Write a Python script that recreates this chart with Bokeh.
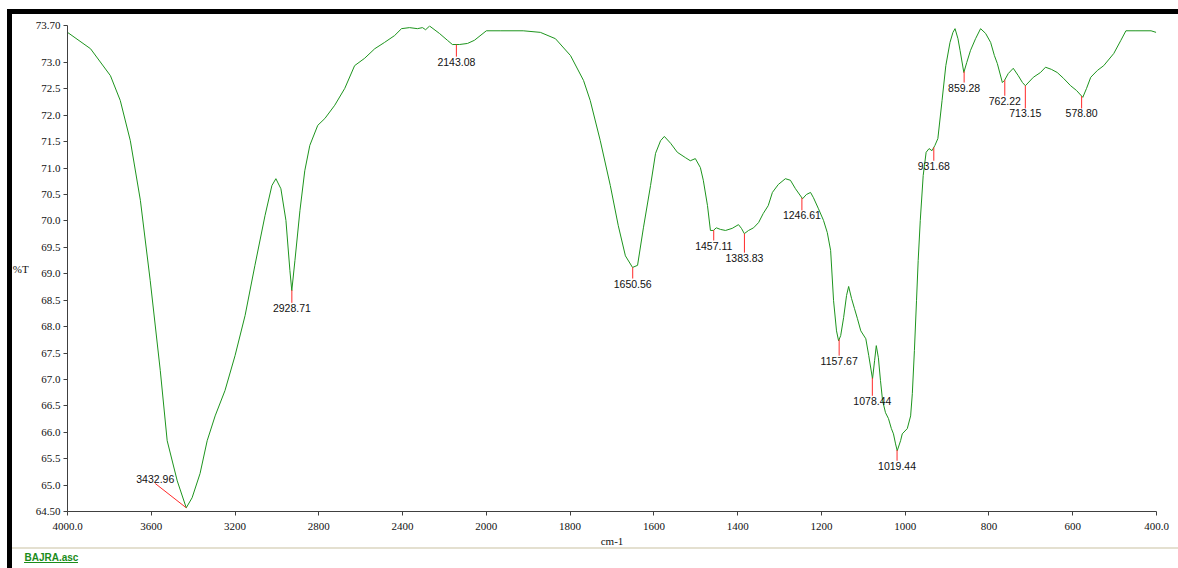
import numpy as np
from bokeh.plotting import figure
from bokeh.models import Range1d, FixedTicker, Title
from bokeh.embed import file_html
from bokeh.resources import INLINE
from bokeh.core.properties import value

# ---- data ----
wavenumber = [4000, 3890, 3795, 3748, 3700, 3652, 3605, 3557, 3524, 3476, 3433, 3405, 3367, 3333,
              3295, 3248, 3200, 3152, 3105, 3057, 3024, 3005, 2981, 2957, 2938, 2929, 2914, 2890,
              2867, 2843, 2805, 2771, 2724, 2676, 2629, 2581, 2533, 2486, 2438, 2405, 2367, 2329,
              2305, 2290, 2271, 2224, 2186, 2162, 2129, 2090, 2057, 2000, 1967, 1912, 1871, 1835,
              1799, 1768, 1752, 1728, 1704, 1685, 1668, 1651, 1639, 1625, 1608, 1596, 1584, 1575,
              1560, 1544, 1525, 1513, 1501, 1489, 1482, 1472, 1465, 1458, 1451, 1441, 1429, 1413,
              1398, 1391, 1384, 1374, 1362, 1350, 1339, 1327, 1317, 1303, 1286, 1274, 1262, 1245,
              1236, 1226, 1219, 1207, 1195, 1186, 1178, 1171, 1164, 1159, 1154, 1147, 1140, 1135,
              1128, 1121, 1114, 1106, 1094, 1087, 1078, 1073, 1069, 1064, 1059, 1054, 1047, 1040,
              1033, 1028, 1023, 1019, 1011, 1007, 995, 987, 983, 978, 973, 969, 964, 957, 950, 943,
              936, 929, 922, 912, 903, 893, 886, 881, 874, 869, 860, 853, 844, 832, 820, 808, 796,
              787, 780, 768, 763, 754, 742, 730, 720, 713, 694, 677, 665, 651, 637, 622, 605, 591,
              576, 567, 557, 541, 526, 502, 485, 473, 449, 413, 401]
transmittance = [73.57, 73.26, 72.75, 72.28, 71.52, 70.39, 68.87, 67.17, 65.84, 65.08, 64.57, 64.76,
                 65.22, 65.84, 66.31, 66.79, 67.45, 68.21, 69.16, 70.10, 70.67, 70.80, 70.61, 70.01,
                 69.06, 68.68, 69.25, 70.20, 70.95, 71.43, 71.81, 71.94, 72.19, 72.51, 72.94, 73.08,
                 73.26, 73.38, 73.51, 73.64, 73.66, 73.64, 73.66, 73.62, 73.69, 73.55, 73.42, 73.34,
                 73.34, 73.36, 73.42, 73.60, 73.60, 73.60, 73.57, 73.45, 73.13, 72.66, 72.28, 71.52,
                 70.67, 69.91, 69.34, 69.12, 69.16, 69.87, 70.67, 71.28, 71.52, 71.60, 71.47, 71.30,
                 71.20, 71.14, 71.18, 71.01, 70.77, 70.29, 69.82, 69.82, 69.87, 69.84, 69.82, 69.86,
                 69.93, 69.86, 69.76, 69.82, 69.87, 69.97, 70.14, 70.29, 70.54, 70.69, 70.80, 70.77,
                 70.61, 70.42, 70.50, 70.54, 70.44, 70.23, 70.01, 69.78, 69.44, 68.49, 67.92, 67.73,
                 67.83, 68.17, 68.59, 68.76, 68.53, 68.34, 68.15, 67.92, 67.77, 67.45, 67.01, 67.36,
                 67.64, 67.41, 66.98, 66.60, 66.37, 66.26, 66.07, 65.97, 65.78, 65.65, 65.84, 65.97,
                 66.07, 66.31, 66.73, 67.55, 68.49, 69.25, 70.01, 70.86, 71.30, 71.37, 71.33, 71.43,
                 71.56, 72.28, 72.94, 73.38, 73.57, 73.64, 73.45, 73.23, 72.81, 73.00, 73.23, 73.45,
                 73.64, 73.55, 73.38, 73.13, 72.98, 72.62, 72.66, 72.79, 72.89, 72.75, 72.62, 72.56,
                 72.72, 72.81, 72.91, 72.87, 72.81, 72.70, 72.56, 72.47, 72.34, 72.51, 72.72, 72.85,
                 72.94, 73.17, 73.42, 73.60, 73.60, 73.60, 73.57]
peak_wn = [3432.96, 2928.71, 2143.08, 1650.56, 1457.11, 1383.83, 1246.61, 1157.67,
           1078.44, 1019.44, 931.68, 859.28, 762.22, 713.15, 578.80]
x_tick_wn = [4000, 3600, 3200, 2800, 2400, 2000, 1800, 1600, 1400, 1200, 1000, 800, 600, 400]
x_tick_labels = ["4000.0", "3600", "3200", "2800", "2400", "2000", "1800", "1600", "1400",
                 "1200", "1000", "800", "600", "400.0"]
y_ticks = [64.5, 65.0, 65.5, 66.0, 66.5, 67.0, 67.5, 68.0, 68.5, 69.0, 69.5, 70.0,
           70.5, 71.0, 71.5, 72.0, 72.5, 73.0, 73.7]
y_tick_labels = ["64.50", "65.0", "65.5", "66.0", "66.5", "67.0", "67.5", "68.0", "68.5",
                 "69.0", "69.5", "70.0", "70.5", "71.0", "71.5", "72.0", "72.5", "73.0", "73.70"]

# ---- layout of the peak markers (end of each red marker line) ----
marker_end_wn = [3581] + peak_wn[1:]
marker_end_T = [65.03, 68.45, 73.11, 68.91, 69.63, 69.40, 70.20, 67.45,
                66.69, 65.46, 71.14, 72.62, 72.37, 72.13, 72.13]


def to_u(wn):
    """Piecewise-linear wavenumber axis: 4000-2000 is compressed by half."""
    wn = np.asarray(wn, dtype=float)
    return np.where(wn > 2000, 2000 + (wn - 2000) / 2.0, wn)


wn_arr = np.array(wavenumber, dtype=float)
t_arr = np.array(transmittance, dtype=float)
u_curve = to_u(wn_arr)

W, H = 1178, 568
frame_css = {
    "background-color": "white",
    "background-image": ("linear-gradient(#000,#000), linear-gradient(#000,#000), "
                         "linear-gradient(#e4e0d0,#e4e0d0), linear-gradient(#1a8c1a,#1a8c1a)"),
    "background-size": "1171px 5px, 5px 559px, 1166px 2px, 54px 1px",
    "background-position": "7px 9px, 7px 9px, 12px 547px, 24px 562px",
    "background-repeat": "no-repeat",
}
p = figure(width=W, height=H, output_backend="svg", toolbar_location=None,
           x_range=Range1d(float(to_u(4000)), 400), y_range=Range1d(64.5, 73.7),
           min_border_left=67, min_border_right=22, min_border_top=25, min_border_bottom=57,
           styles=frame_css)
p.grid.visible = False
p.outline_line_color = None
p.background_fill_color = None
p.border_fill_color = None

# curve
p.line(u_curve, t_arr, line_color="#1d941d", line_width=1)

# peak markers
order = np.argsort(u_curve)
pk_u = to_u(peak_wn)
pk_T = np.interp(pk_u, u_curve[order], t_arr[order])
end_u = to_u(marker_end_wn)
p.segment(x0=pk_u, y0=pk_T, x1=end_u, y1=marker_end_T, line_color="#ff2a2a", line_width=1)
labels = ["%.2f" % w for w in peak_wn]
p.text(x=end_u[1:], y=marker_end_T[1:], text=labels[1:], text_align="center",
       text_baseline="top", y_offset=1, text_font=value("Liberation Sans"),
       text_font_size="10.5px", text_color="#111111")
p.text(x=end_u[:1], y=marker_end_T[:1], text=labels[:1], text_align="center",
       text_baseline="bottom", y_offset=-1, text_font=value("Liberation Sans"),
       text_font_size="10.5px", text_color="#111111")

# axes
xt = [float(v) for v in to_u(x_tick_wn)]
p.xaxis.ticker = FixedTicker(ticks=xt)
p.xaxis.major_label_overrides = {t: l for t, l in zip(xt, x_tick_labels)}
p.yaxis.ticker = FixedTicker(ticks=y_ticks)
p.yaxis.major_label_overrides = {t: l for t, l in zip(y_ticks, y_tick_labels)}
for ax in (p.xaxis, p.yaxis):
    ax.axis_line_color = "#404040"
    ax.major_tick_line_color = "#404040"
    ax.major_tick_out = 4
    ax.major_tick_in = 0
    ax.minor_tick_line_color = None
    ax.major_label_text_font = "Liberation Serif"
    ax.major_label_text_font_size = "11px"
    ax.major_label_text_color = "#111111"
    ax.axis_label_text_font = "Liberation Serif"
    ax.axis_label_text_font_size = "11px"
    ax.axis_label_text_font_style = "normal"
    ax.axis_label_text_color = "#111111"
p.xaxis.major_label_standoff = 7
p.yaxis.major_label_standoff = 3
p.xaxis.axis_label = "cm-1"
p.xaxis.axis_label_standoff = 2
p.yaxis.axis_label = "%T"
p.yaxis.axis_label_orientation = "horizontal"
p.yaxis.axis_label_standoff = 4

# file name link under the window frame line
p.add_layout(Title(text="BAJRA.asc", align="left", offset=-43, standoff=0,
                   text_font="Liberation Sans", text_font_size="10px", text_font_style="bold",
                   text_color="#1a8c1a"), "below")

open("out.html", "w").write(file_html(p, INLINE))
